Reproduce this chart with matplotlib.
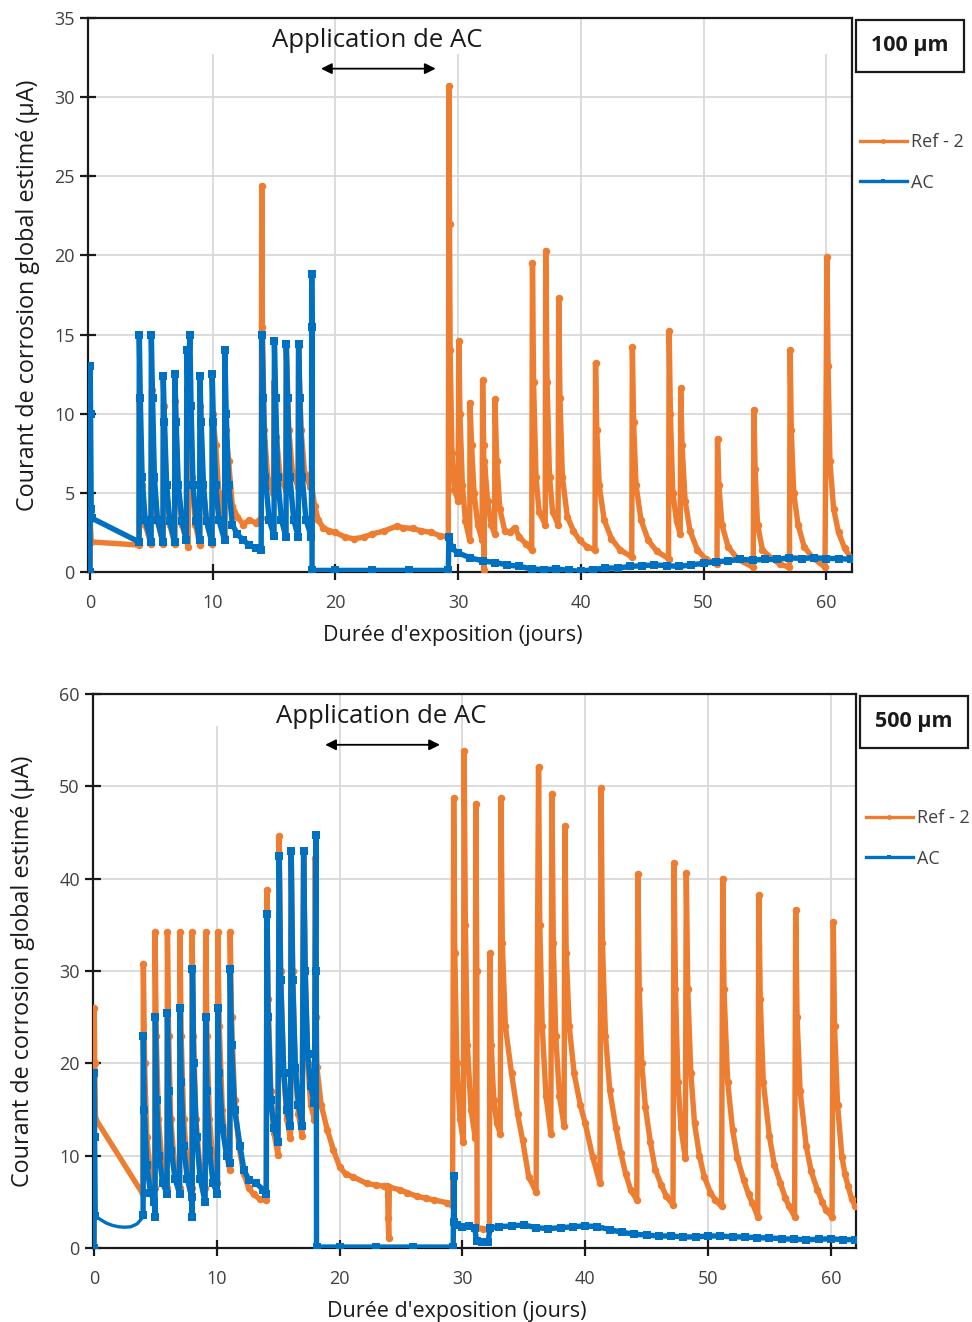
import matplotlib
matplotlib.use("Agg")
import matplotlib.pyplot as plt
from matplotlib.lines import Line2D

plt.rcParams["font.family"] = ["Open Sans", "DejaVu Sans"]

# Colors (Excel default palette)
ORANGE = "#ED7D31"
BLUE = "#0070C0"

# ======================= DATA =======================
# 100 um panel, Ref - 2 : (day, current in uA)
ref_100 = [
    (0.0, 0.0), (0.02, 3.3), (0.1, 1.9), (4.0, 1.7),
    (4.02, 11.0), (4.2, 5.5), (4.5, 3.0), (4.95, 1.8),
    (5.02, 11.5), (5.2, 5.8), (5.5, 3.2), (5.95, 1.8),
    (6.02, 10.5), (6.2, 5.5), (6.5, 3.0), (6.9, 1.8),
    (6.95, 10.8), (7.15, 5.5), (7.5, 3.0), (8.0, 1.6),
    (8.1, 12.0), (8.3, 6.0), (8.6, 3.0), (8.95, 1.7),
    (9.0, 10.5), (9.2, 5.5), (9.5, 3.2), (9.95, 1.8),
    (10.0, 10.0), (10.25, 8.0), (10.5, 5.0), (11.0, 2.2),
    (11.05, 9.0), (11.3, 7.0), (11.6, 4.2), (12.0, 3.5), (12.5, 3.0), (13.0, 3.3), (13.5, 3.1), (13.95, 3.4),
    (14.0, 24.4), (14.05, 15.5), (14.2, 9.0), (14.5, 5.8), (14.95, 5.0),
    (15.0, 12.0), (15.2, 8.5), (15.5, 6.0), (15.95, 5.2),
    (16.0, 14.3), (16.2, 9.0), (16.5, 6.3), (16.95, 5.4),
    (17.0, 14.3), (17.2, 9.0), (17.5, 6.2), (17.95, 5.4),
    (18.05, 5.6), (18.3, 4.2), (18.6, 3.3), (19.0, 2.8), (19.5, 2.6), (20.0, 2.5), (20.8, 2.2),
    (21.5, 2.1), (22.3, 2.2), (23.0, 2.4), (24.0, 2.6), (25.0, 2.9), (25.5, 2.8), (26.3, 2.75),
    (27.0, 2.6), (27.8, 2.5), (28.5, 2.3), (29.2, 2.2),
    (29.26, 30.7), (29.3, 22.0), (29.35, 14.0), (29.5, 7.5), (29.7, 5.2), (30.0, 4.5),
    (30.06, 14.6), (30.15, 10.0), (30.35, 5.5), (30.6, 3.2), (30.95, 2.0),
    (30.97, 10.7), (31.1, 8.0), (31.3, 5.0), (31.6, 3.0), (31.95, 2.0),
    (32.0, 12.1), (32.08, 8.0), (32.12, 0.1), (32.15, 7.0), (32.4, 4.5), (32.7, 3.0), (32.98, 2.4),
    (33.0, 10.9), (33.15, 7.0), (33.4, 4.0), (33.8, 2.6), (34.2, 2.5), (34.6, 2.8), (35.0, 2.2),
    (35.5, 1.8), (36.0, 1.4),
    (36.06, 19.5), (36.15, 12.0), (36.35, 6.0), (36.6, 3.8), (37.1, 3.0),
    (37.14, 20.3), (37.25, 12.0), (37.45, 6.0), (37.7, 3.8), (38.15, 3.0),
    (38.2, 17.3), (38.3, 11.0), (38.5, 6.0), (38.9, 3.5), (39.4, 2.6), (39.9, 2.0), (40.5, 1.6), (41.15, 1.4),
    (41.2, 13.2), (41.3, 9.0), (41.5, 5.5), (41.9, 3.3), (42.5, 2.1), (43.2, 1.4), (44.15, 0.95),
    (44.2, 14.2), (44.3, 9.5), (44.5, 5.5), (44.9, 3.3), (45.5, 2.0), (46.2, 1.3), (47.15, 0.85),
    (47.2, 15.2), (47.3, 10.0), (47.5, 5.0), (47.8, 3.2), (48.1, 2.4),
    (48.14, 11.6), (48.25, 8.0), (48.5, 4.5), (48.9, 2.6), (49.5, 1.4), (50.2, 0.8), (51.1, 0.5),
    (51.14, 8.4), (51.25, 5.5), (51.5, 3.0), (52.0, 1.6), (52.8, 0.8), (54.05, 0.3),
    (54.11, 10.25), (54.2, 6.5), (54.4, 3.0), (54.8, 1.4), (55.5, 0.9), (56.2, 0.5), (57.0, 0.3),
    (57.06, 14.0), (57.15, 9.0), (57.35, 5.0), (57.7, 3.0), (58.2, 1.6), (58.9, 0.9), (59.9, 0.3),
    (60.06, 19.9), (60.15, 13.0), (60.3, 7.0), (60.6, 4.0), (61.0, 2.5), (61.5, 1.5), (62.0, 0.9),
]

# 100 um panel, AC
ac_100 = [
    (0.0, 0.0), (0.02, 13.0), (0.05, 10.0), (0.1, 4.0), (0.15, 3.4), (4.0, 1.9),
    (4.02, 15.0), (4.1, 11.0), (4.25, 6.0), (4.5, 3.3), (4.98, 1.9),
    (5.0, 15.0), (5.1, 11.0), (5.25, 6.0), (5.5, 3.3), (5.95, 1.9),
    (5.97, 12.4), (6.07, 9.5), (6.25, 5.5), (6.5, 3.2), (6.9, 1.9),
    (6.92, 12.5), (7.02, 9.5), (7.2, 5.5), (7.5, 3.2), (7.85, 2.0),
    (7.9, 14.0), (8.0, 11.5), (8.14, 15.0), (8.24, 10.5), (8.4, 5.5), (8.65, 3.2), (8.94, 2.0),
    (8.96, 12.4), (9.06, 9.5), (9.25, 5.5), (9.5, 3.2), (9.94, 1.9),
    (9.96, 12.5), (10.06, 9.5), (10.25, 5.5), (10.5, 3.3), (10.97, 2.0),
    (10.99, 14.0), (11.1, 10.0), (11.3, 5.5), (11.6, 3.0), (12.0, 2.4), (12.5, 2.0), (13.0, 1.7),
    (13.5, 1.5), (13.95, 1.4),
    (14.03, 15.0), (14.13, 11.0), (14.3, 6.0), (14.6, 3.3), (15.0, 2.3),
    (15.03, 14.6), (15.13, 11.0), (15.3, 6.0), (15.6, 3.3), (15.98, 2.2),
    (16.0, 14.4), (16.1, 11.0), (16.3, 6.0), (16.6, 3.3), (16.98, 2.2),
    (17.0, 14.4), (17.1, 11.0), (17.3, 6.0), (17.6, 3.3), (18.05, 2.2),
    (18.07, 18.8), (18.09, 15.5), (18.1, 0.1), (20.0, 0.1), (23.0, 0.1), (26.0, 0.1), (29.2, 0.1),
    (29.25, 2.2), (29.5, 1.5), (30.0, 1.2), (31.0, 0.9), (32.0, 0.7), (33.0, 0.6), (34.0, 0.45),
    (35.0, 0.35), (36.0, 0.2), (37.0, 0.15), (38.0, 0.2), (39.0, 0.1), (40.0, 0.05), (41.0, 0.15),
    (42.0, 0.25), (43.0, 0.25), (44.0, 0.35), (45.0, 0.4), (46.0, 0.45), (47.0, 0.4), (48.0, 0.35),
    (49.0, 0.45), (50.0, 0.55), (51.0, 0.65), (52.0, 0.7), (53.0, 0.8), (54.0, 0.75), (55.0, 0.8),
    (56.0, 0.8), (57.0, 0.9), (58.0, 0.85), (59.0, 0.9), (60.0, 0.85), (61.0, 0.85), (62.0, 0.8),
]

# 500 um panel, Ref - 2
ref_500 = [
    (0.0, 0.0), (0.02, 26.0), (0.06, 20.0), (0.12, 14.0), (4.0, 5.8),
    (4.02, 30.8), (4.12, 20.0), (4.3, 12.0), (4.6, 8.0), (4.95, 6.5),
    (4.97, 34.2), (5.07, 23.0), (5.25, 14.0), (5.55, 9.0), (5.95, 6.5),
    (5.98, 34.2), (6.08, 23.0), (6.25, 14.0), (6.55, 9.0), (6.97, 6.5),
    (7.0, 34.2), (7.1, 23.0), (7.3, 14.0), (7.6, 9.0), (7.97, 6.5),
    (7.99, 34.2), (8.1, 23.0), (8.3, 14.0), (8.6, 9.0), (9.05, 6.5),
    (9.1, 34.2), (9.2, 23.0), (9.4, 14.0), (9.7, 9.0), (10.05, 7.0),
    (10.08, 34.2), (10.2, 24.0), (10.45, 15.0), (10.8, 10.0), (11.06, 8.5),
    (11.09, 34.2), (11.2, 25.0), (11.45, 16.0), (11.8, 11.0), (12.2, 8.0), (12.6, 6.5), (13.0, 5.8),
    (13.5, 5.3), (14.03, 5.2),
    (14.08, 38.8), (14.18, 27.0), (14.4, 17.0), (14.65, 12.5), (14.98, 10.1),
    (15.08, 44.6), (15.2, 30.0), (15.45, 19.0), (15.7, 14.0), (16.0, 11.9),
    (16.06, 43.0), (16.18, 30.0), (16.4, 19.0), (16.65, 14.5), (16.95, 12.1),
    (17.07, 43.0), (17.2, 30.0), (17.4, 20.0), (17.65, 15.5), (17.95, 13.9),
    (18.02, 42.2), (18.1, 25.0), (18.15, 19.6), (18.5, 15.5), (19.0, 12.8), (19.5, 10.6), (20.0, 8.8),
    (20.5, 8.0), (21.1, 7.7), (22.2, 7.0), (23.0, 6.8), (23.6, 6.7), (23.9, 6.7), (23.95, 3.3),
    (24.0, 1.1), (24.05, 6.6), (24.9, 6.3), (25.5, 6.0), (26.3, 5.6), (27.0, 5.4), (27.7, 5.2),
    (28.75, 4.9), (29.2, 4.5),
    (29.29, 48.7), (29.38, 32.0), (29.55, 20.0), (29.8, 14.0), (30.08, 11.5),
    (30.14, 53.8), (30.24, 35.0), (30.4, 22.0), (30.7, 15.0), (31.05, 11.9),
    (31.09, 48.1), (31.17, 30.0), (31.2, 2.2), (31.7, 2.1), (32.2, 2.0),
    (32.23, 31.9), (32.35, 22.0), (32.55, 16.0), (32.8, 13.5), (33.08, 12.4),
    (33.14, 48.7), (33.25, 33.0), (33.5, 24.0), (34.0, 18.9), (34.5, 14.5), (34.9, 11.7), (35.4, 7.7),
    (36.0, 6.1),
    (36.2, 52.1), (36.3, 35.0), (36.5, 24.0), (36.8, 16.5), (37.2, 12.4),
    (37.29, 49.2), (37.4, 33.0), (37.6, 23.0), (37.9, 16.5), (38.28, 13.2),
    (38.34, 45.7), (38.45, 32.0), (38.7, 24.0), (39.1, 18.9), (39.6, 15.5), (40.0, 13.5), (40.6, 9.9),
    (41.2, 7.0),
    (41.29, 49.8), (41.4, 33.0), (41.65, 23.0), (42.0, 17.1), (42.5, 13.0), (42.9, 10.3), (43.3, 8.0),
    (43.7, 6.3), (44.2, 5.2),
    (44.29, 40.5), (44.4, 28.0), (44.6, 20.0), (44.9, 15.3), (45.3, 11.5), (45.7, 8.5), (46.2, 6.8),
    (46.6, 5.6), (47.15, 4.7),
    (47.23, 41.7), (47.35, 28.0), (47.55, 18.0), (47.8, 13.0), (48.15, 9.7),
    (48.23, 40.6), (48.35, 28.0), (48.6, 19.0), (48.9, 13.5), (49.3, 10.0), (49.7, 7.7), (50.2, 6.0),
    (50.6, 5.2), (51.1, 4.5),
    (51.2, 40.0), (51.3, 28.0), (51.6, 18.0), (52.0, 12.8), (52.4, 9.7), (52.9, 7.4), (53.3, 5.8),
    (53.6, 4.9), (54.05, 3.4),
    (54.14, 38.2), (54.25, 27.0), (54.5, 18.0), (55.0, 12.1), (55.4, 9.0), (55.9, 7.0), (56.3, 5.4),
    (56.6, 4.5), (57.05, 3.4),
    (57.14, 36.6), (57.25, 25.0), (57.5, 17.0), (58.0, 11.0), (58.4, 8.3), (58.9, 6.3), (59.3, 5.0),
    (59.6, 4.1), (60.1, 3.4),
    (60.2, 35.3), (60.3, 24.0), (60.55, 15.5), (60.9, 9.9), (61.15, 8.0), (61.4, 6.7), (61.7, 5.3),
    (62.0, 4.5),
]

# 500 um panel, AC (start, smooth curve drawn without markers between day 0 and 4)
ac_500_start = [(0.0, 0.0), (0.02, 19.0), (0.05, 12.0), (0.1, 3.5)]
ac_500_curve = [(0.1, 3.5), (0.5, 3.1), (1.0, 2.7), (1.5, 2.45), (2.0, 2.3), (2.5, 2.25),
                (3.0, 2.3), (3.5, 2.6), (3.9, 3.2), (4.0, 3.6)]
ac_500 = [
    (4.0, 3.6), (4.02, 23.0), (4.1, 15.0), (4.3, 9.0), (4.6, 6.0), (4.92, 5.0), (4.97, 3.4),
    (5.0, 25.0), (5.1, 16.0), (5.3, 10.0), (5.6, 7.0), (5.95, 5.9),
    (5.98, 25.5), (6.08, 17.0), (6.3, 10.5), (6.6, 7.5), (6.97, 5.9),
    (7.0, 26.0), (7.1, 18.0), (7.3, 11.0), (7.6, 7.5), (7.95, 5.5), (8.0, 3.4),
    (8.02, 30.2), (8.12, 20.0), (8.35, 12.0), (8.65, 7.5), (9.05, 5.0),
    (9.1, 25.0), (9.2, 17.0), (9.4, 10.5), (9.7, 7.0), (10.05, 5.9),
    (10.08, 26.0), (10.2, 19.0), (10.45, 13.0), (10.8, 10.0), (11.06, 9.2),
    (11.09, 30.2), (11.2, 22.0), (11.45, 15.0), (11.9, 11.0), (12.2, 8.5), (12.6, 7.4), (13.2, 7.0),
    (13.8, 6.3), (14.03, 5.9),
    (14.08, 36.2), (14.18, 25.0), (14.4, 16.0), (14.65, 13.0), (14.98, 11.5),
    (15.08, 42.5), (15.2, 29.0), (15.45, 19.0), (15.7, 15.0), (16.0, 13.2),
    (16.06, 43.0), (16.18, 29.0), (16.4, 19.5), (16.65, 15.5), (16.95, 13.2),
    (17.07, 43.0), (17.2, 30.0), (17.4, 21.0), (17.65, 17.5), (17.95, 15.7),
    (18.07, 44.7), (18.1, 30.0), (18.12, 0.1), (20.0, 0.1), (23.0, 0.1), (26.0, 0.1), (29.25, 0.1),
    (29.3, 7.8), (29.35, 2.8), (29.6, 2.5), (30.0, 2.3), (30.5, 2.4), (31.0, 2.2), (31.15, 0.8),
    (31.6, 0.7), (32.1, 0.7), (32.25, 2.2), (33.0, 2.3), (34.0, 2.4), (35.0, 2.5), (36.0, 2.2),
    (37.0, 2.1), (38.0, 2.2), (39.0, 2.3), (40.0, 2.4), (41.0, 2.3), (42.0, 2.0), (43.0, 1.7),
    (44.0, 1.5), (45.0, 1.4), (46.0, 1.3), (47.0, 1.3), (48.0, 1.2), (49.0, 1.2), (50.0, 1.3),
    (51.0, 1.3), (52.0, 1.2), (53.0, 1.2), (54.0, 1.1), (55.0, 1.1), (56.0, 1.0), (57.0, 0.95),
    (58.0, 0.9), (59.0, 0.95), (60.0, 1.0), (61.0, 0.9), (62.0, 0.9),
]

x_ticks = [0, 10, 20, 30, 40, 50, 60]
y_ticks_100 = [0, 5, 10, 15, 20, 25, 30, 35]
y_ticks_500 = [0, 10, 20, 30, 40, 50, 60]
series_labels = ["Ref - 2", "AC"]
panel_labels = ["100 µm", "500 µm"]


def xy(points):
    return [p[0] for p in points], [p[1] for p in points]


def style_axis(ax, yticks, xlim, grid_top):
    ax.set_xlim(*xlim)
    ax.set_ylim(yticks[0], yticks[-1])
    ax.set_xticks(x_ticks)
    ax.set_yticks(yticks)
    # horizontal grid + vertical grid (some vertical lines stop short of the top, as in the original)
    for y in yticks[1:-1]:
        ax.axhline(y, color="#d9d9d9", lw=1.3, zorder=0)
    for x in x_ticks[1:]:
        ax.axvline(x, ymax=grid_top.get(x, 1.0), color="#d9d9d9", lw=1.3, zorder=0)
    for s in ax.spines.values():
        s.set_color("#1a1a1a")
        s.set_linewidth(1.6)
    ax.tick_params(direction="inout", length=11, width=1.6, labelsize=13, colors="#1a1a1a",
                   labelcolor="#404040")
    ax.tick_params(axis="x", pad=10)
    ax.tick_params(axis="y", pad=4)
    ax.set_xlabel("Durée d'exposition (jours)", fontsize=15.5, color="#1a1a1a")
    ax.set_ylabel("Courant de corrosion global estimé (µA)", fontsize=16.8, color="#1a1a1a")


fig = plt.figure(figsize=(9.72, 13.22), dpi=100)
ax1 = fig.add_axes([88 / 972, 1 - 572 / 1322, 764 / 972, 554 / 1322])
ax2 = fig.add_axes([93 / 972, 1 - 1248 / 1322, 763 / 972, 554 / 1322])

line_kw = dict(lw=3.9, ms=5.4, mew=0, solid_joinstyle="round")

# ---------- 100 um ----------
t, v = xy(ref_100)
ax1.plot(t, v, color=ORANGE, marker="o", zorder=3, **line_kw)
t, v = xy(ac_100)
ax1.plot(t, v, color=BLUE, marker="s", zorder=4, **line_kw)
style_axis(ax1, y_ticks_100, (-0.16, 62.1), {10: 0.933, 30: 0.933, 60: 0.933})

# ---------- 500 um ----------
t, v = xy(ref_500)
ax2.plot(t, v, color=ORANGE, marker="o", zorder=3, **line_kw)
t, v = xy(ac_500_start)
ax2.plot(t, v, color=BLUE, marker="s", zorder=4, **line_kw)
t, v = xy(ac_500_curve)
ax2.plot(t, v, color=BLUE, lw=2.4, zorder=4)
t, v = xy(ac_500)
ax2.plot(t, v, color=BLUE, marker="s", zorder=4, **line_kw)
style_axis(ax2, y_ticks_500, (-0.08, 62.05), {10: 0.94})

# x label sits a little left of centre in the original
ax1.xaxis.set_label_coords(0.477, -0.095)
ax2.xaxis.set_label_coords(0.477, -0.095)
ax1.yaxis.set_label_coords(-0.063, 0.5)
ax2.yaxis.set_label_coords(-0.076, 0.5)

# "Application de AC" + double arrow
for ax, ytxt, yarr in [(ax1, 33.6, 31.8), (ax2, 57.6, 54.5)]:
    ax.text(23.4, ytxt, "Application de AC", ha="center", va="center", fontsize=18.5, color="#1a1a1a")
    ax.annotate("", xy=(28.4, yarr), xytext=(18.6, yarr),
                arrowprops=dict(arrowstyle="<|-|>", color="black", lw=1.3, mutation_scale=16))

# panel tags and legends to the right of each plot
handles = [Line2D([], [], color=ORANGE, lw=2.4, marker="o", ms=3.5, mew=0),
           Line2D([], [], color=BLUE, lw=2.4, marker="s", ms=3.5, mew=0)]
for tag, (bx, by), (lx, ly) in [(panel_labels[0], (910, 46), (860, 133)),
                                 (panel_labels[1], (914, 722), (866, 809))]:
    fig.text(bx / 972, 1 - by / 1322, tag, ha="center", va="center", fontsize=15.5,
             fontweight="bold", color="#1a1a1a",
             bbox=dict(boxstyle="square,pad=0.7", fc="white", ec="#1a1a1a", lw=1.6))
    fig.legend(handles, series_labels, loc="upper left", bbox_to_anchor=(lx / 972, 1 - ly / 1322),
               frameon=False, fontsize=13, handlelength=2.6, handletextpad=0.25,
               labelspacing=1.25, borderpad=0, borderaxespad=0, labelcolor="#404040")

fig.savefig("out.png", dpi=100, facecolor="white")
